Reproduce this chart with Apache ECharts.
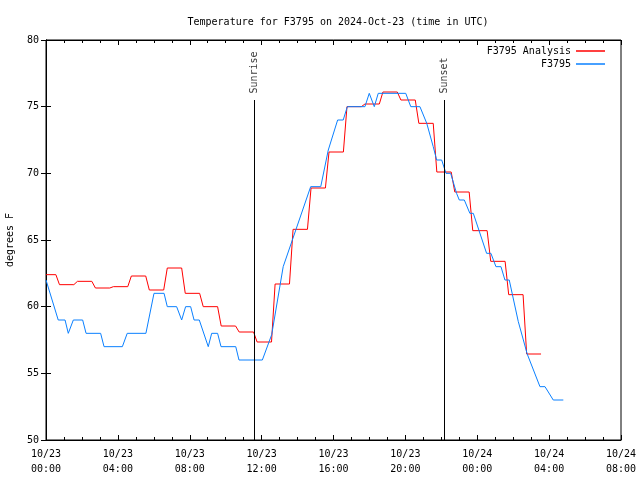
<!DOCTYPE html>
<html>
<head>
<meta charset="utf-8">
<script src="https://cdn.jsdelivr.net/npm/echarts@6/dist/echarts.min.js"></script>
<style>html,body{margin:0;padding:0;background:#fff}#c{width:640px;height:480px}</style>
</head>
<body>
<div id="c"></div>
<script>
// Time in hours since 2024-10-23 00:00 UTC
var xTickLabels = ['10/23\n00:00','10/23\n04:00','10/23\n08:00','10/23\n12:00','10/23\n16:00','10/23\n20:00','10/24\n00:00','10/24\n04:00','10/24\n08:00'];
var yTicks = [50, 55, 60, 65, 70, 75, 80];

// F3795 Analysis: hourly values (hour index 0..27)
var analysisHours = [0,1,2,3,4,5,6,7,8,9,10,11,12,13,14,15,16,17,18,19,20,21,22,23,24,25,26,27];
var analysisTemps = [62.4,61.65,61.9,61.4,61.5,62.3,61.25,62.9,61.0,60.0,58.55,58.1,57.35,61.7,65.8,68.9,71.6,75.0,75.2,76.1,75.5,73.75,70.1,68.6,65.7,63.4,60.9,56.45];

// F3795 observations
var obsHours = [0.00,0.68,1.06,1.24,1.52,2.04,2.23,3.04,3.23,4.25,4.52,5.56,6.01,6.57,6.75,7.27,7.55,7.77,8.05,8.24,8.53,9.03,9.22,9.55,9.74,10.56,10.74,12.04,12.56,13.20,14.73,15.29,15.71,16.23,16.54,16.77,17.75,17.99,18.27,18.49,20.02,20.30,20.81,21.19,21.55,21.74,22.02,22.26,22.52,22.85,23.00,23.28,23.59,23.78,24.52,24.76,25.04,25.32,25.54,25.78,26.28,26.78,27.49,27.77,28.23,28.79];
var obsTemps = [62,59,59,58,59,59,58,58,57,57,58,58,61,61,60,60,59,60,60,59,59,57,58,58,57,57,56,56,57.9,63,69,69,71.75,74,74,75,75,76,75,76,76,75,75,73.75,72,71,71,70,70,68.5,68,68,67,67,64,64,63,63,62,62,58.9,56.45,54,54,53,53];

var sunriseHour = 11 + 35/60;
var sunsetHour = 22 + 10/60;
var sunLineTop = 75.5;

var analysisData = [];
for (var i = 0; i < analysisHours.length; i++) {
  var h = analysisHours[i];
  analysisData.push([Math.max(0, h - 0.25), analysisTemps[i]]);
  analysisData.push([h + 0.55, analysisTemps[i]]);
}
var obsData = obsHours.map(function (h, i) { return [h, obsTemps[i]]; });

var FONT = 'DejaVu Sans Mono';
var chart = echarts.init(document.getElementById('c'), null, {renderer: 'canvas'});
var tickStyle = {inside: true, length: 5, lineStyle: {color: '#000', width: 1}};
var minorTickStyle = {inside: true, length: 3, lineStyle: {color: '#000', width: 1}};
function minorAxis(pos) {
  return {
    type: 'value', min: 0, max: 32, interval: 1, position: pos,
    axisLine: {show: false}, axisTick: minorTickStyle,
    splitLine: {show: false}, axisLabel: {show: false}
  };
}
chart.setOption({
  animation: false,
  backgroundColor: '#fff',
  title: {
    text: 'Temperature for F3795 on 2024-Oct-23 (time in UTC)',
    left: 333, top: 12, textAlign: 'center',
    textStyle: {fontFamily: FONT, fontSize: 10, fontWeight: 'normal', color: '#000'}
  },
  legend: {
    data: [{name: 'F3795 Analysis', icon: 'rect'}, {name: 'F3795', icon: 'rect'}],
    orient: 'vertical', align: 'right', right: 30, top: 40,
    itemWidth: 29, itemHeight: 1.5, itemGap: 1,
    textStyle: {fontFamily: FONT, fontSize: 10, color: '#000', lineHeight: 12}
  },
  grid: {left: 46, right: 19, top: 40, bottom: 40, show: true, borderColor: '#000', borderWidth: 1, containLabel: false, outerBoundsMode: 'none'},
  xAxis: [{
    type: 'value', min: 0, max: 32, interval: 4, position: 'bottom',
    axisLine: {show: true, lineStyle: {color: '#000'}},
    axisTick: tickStyle,
    splitLine: {show: false},
    axisLabel: {fontFamily: FONT, fontSize: 10, color: '#000', margin: 7, lineHeight: 15,
      formatter: function (v) { return xTickLabels[Math.round(v / 4)]; }}
  }, {
    type: 'value', min: 0, max: 32, interval: 4, position: 'top',
    axisLine: {show: true, lineStyle: {color: '#000'}},
    axisTick: tickStyle,
    splitLine: {show: false}, axisLabel: {show: false}
  }, minorAxis('bottom'), minorAxis('top')],
  yAxis: [{
    type: 'value', min: 50, max: 80, interval: 5, position: 'left',
    name: 'degrees F', nameLocation: 'middle', nameGap: 31, nameRotate: 90,
    nameTextStyle: {fontFamily: FONT, fontSize: 10, color: '#000'},
    axisLine: {show: true, lineStyle: {color: '#000'}},
    axisTick: tickStyle,
    splitLine: {show: false},
    axisLabel: {fontFamily: FONT, fontSize: 10, color: '#000', margin: 7,
      formatter: function (v) { return yTicks.indexOf(v) >= 0 ? String(v) : ''; }}
  }, {
    type: 'value', min: 50, max: 80, interval: 5, position: 'right',
    axisLine: {show: true, lineStyle: {color: '#000'}},
    axisTick: tickStyle, splitLine: {show: false}, axisLabel: {show: false}
  }],
  series: [{
    name: 'F3795 Analysis', type: 'line', data: analysisData,
    symbol: 'none', lineStyle: {color: '#ff0000', width: 1}, itemStyle: {color: '#ff0000'},
    markLine: {
      silent: true, symbol: 'none', label: {show: false},
      lineStyle: {color: '#000', width: 1, type: 'solid'},
      data: [
        [{coord: [sunriseHour, 50]}, {coord: [sunriseHour, sunLineTop]}],
        [{coord: [sunsetHour, 50]}, {coord: [sunsetHour, sunLineTop]}]
      ]
    }
  }, {
    name: 'F3795', type: 'line', data: obsData,
    symbol: 'none', lineStyle: {color: '#0a80ff', width: 1}, itemStyle: {color: '#0a80ff'}
  }, {
    name: 'sun', type: 'scatter', symbolSize: 1, itemStyle: {color: 'transparent'},
    data: [[sunriseHour, sunLineTop, 'Sunrise'], [sunsetHour, sunLineTop, 'Sunset']],
    label: {show: true, position: 'top', distance: 6, rotate: 90, align: 'left', verticalAlign: 'middle',
      fontFamily: FONT, fontSize: 10, color: '#000',
      formatter: function (p) { return p.data[2]; }}
  }]
});
</script>
</body>
</html>
